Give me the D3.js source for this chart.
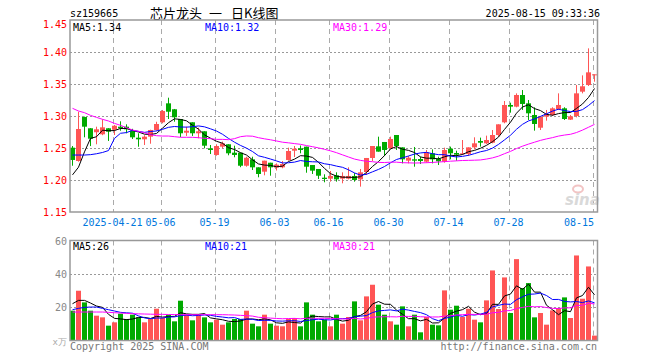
<!DOCTYPE html>
<html><head><meta charset="utf-8">
<script src="https://cdn.jsdelivr.net/npm/d3@7"></script>
<style>body{margin:0;background:#fff}svg{display:block}</style>
</head><body>
<svg id="c" width="660" height="360"></svg>
<script>
const dates = ["2025-04-10","2025-04-11","2025-04-14","2025-04-15","2025-04-16","2025-04-17","2025-04-18","2025-04-21","2025-04-22","2025-04-23","2025-04-24","2025-04-25","2025-04-28","2025-04-29","2025-04-30",
"2025-05-06","2025-05-07","2025-05-08","2025-05-09","2025-05-12","2025-05-13","2025-05-14","2025-05-15","2025-05-16","2025-05-19","2025-05-20","2025-05-21","2025-05-22","2025-05-23","2025-05-26","2025-05-27","2025-05-28","2025-05-29","2025-05-30",
"2025-06-03","2025-06-04","2025-06-05","2025-06-06","2025-06-09","2025-06-10","2025-06-11","2025-06-12","2025-06-13","2025-06-16","2025-06-17","2025-06-18","2025-06-19","2025-06-20","2025-06-23","2025-06-24","2025-06-25","2025-06-26","2025-06-27","2025-06-30",
"2025-07-01","2025-07-02","2025-07-03","2025-07-04","2025-07-07","2025-07-08","2025-07-09","2025-07-10","2025-07-11","2025-07-14","2025-07-15","2025-07-16","2025-07-17","2025-07-18","2025-07-21","2025-07-22","2025-07-23","2025-07-24","2025-07-25","2025-07-28","2025-07-29","2025-07-30","2025-07-31",
"2025-08-01","2025-08-04","2025-08-05","2025-08-06","2025-08-07","2025-08-08","2025-08-11","2025-08-12","2025-08-13","2025-08-14","2025-08-15"];

const open  = [1.2505,1.2297,1.2984,1.2808,1.2746,1.2714,1.2808,1.2786,1.2833,1.2833,1.2770,1.2661,1.2636,1.2677,1.2781,1.2902,1.3198,1.3105,1.2953,1.2739,1.2902,1.2730,1.2761,1.2495,1.2391,1.2521,1.2558,1.2427,1.2427,1.2223,1.2323,1.2198,1.2130,1.2270,1.2195,1.2198,1.2313,1.2458,1.2495,1.2521,1.2234,1.2172,1.2036,1.2021,1.2073,1.2021,1.2021,1.2063,1.2010,1.2125,1.2344,1.2526,1.2594,1.2495,1.2703,1.2510,1.2302,1.2323,1.2328,1.2286,1.2417,1.2333,1.2286,1.2490,1.2422,1.2406,1.2406,1.2510,1.2609,1.2573,1.2583,1.2703,1.2901,1.3172,1.3146,1.3328,1.3198,1.3016,1.2817,1.2990,1.3016,1.3109,1.3120,1.2943,1.3000,1.3380,1.3484,1.3641];
const high  = [1.2531,1.3067,1.2990,1.2810,1.2833,1.2948,1.2810,1.2860,1.2917,1.2870,1.2800,1.2730,1.2700,1.2786,1.2910,1.3094,1.3286,1.3110,1.2953,1.2833,1.2902,1.2817,1.2761,1.2547,1.2558,1.2600,1.2558,1.2536,1.2427,1.2364,1.2364,1.2198,1.2302,1.2270,1.2260,1.2297,1.2505,1.2531,1.2539,1.2521,1.2234,1.2172,1.2089,1.2141,1.2120,1.2120,1.2198,1.2108,1.2172,1.2344,1.2531,1.2677,1.2594,1.2677,1.2703,1.2510,1.2375,1.2516,1.2364,1.2469,1.2479,1.2364,1.2505,1.2521,1.2458,1.2625,1.2510,1.2667,1.2662,1.2693,1.2781,1.2870,1.3234,1.3208,1.3354,1.3406,1.3250,1.3136,1.3000,1.3094,1.3136,1.3354,1.3136,1.3016,1.3484,1.3635,1.4057,1.3651];
const low   = [1.2223,1.2286,1.2667,1.2530,1.2558,1.2700,1.2610,1.2703,1.2770,1.2730,1.2640,1.2520,1.2547,1.2567,1.2770,1.2886,1.2953,1.2911,1.2670,1.2688,1.2688,1.2652,1.2495,1.2406,1.2380,1.2495,1.2386,1.2355,1.2200,1.2208,1.2156,1.2042,1.2073,1.2067,1.2148,1.2183,1.2302,1.2359,1.2417,1.2114,1.2094,1.2016,1.1964,1.1974,1.1974,1.1948,1.2010,1.1974,1.1896,1.2078,1.2297,1.2443,1.2375,1.2484,1.2469,1.2260,1.2260,1.2208,1.2250,1.2271,1.2260,1.2234,1.2271,1.2323,1.2302,1.2396,1.2375,1.2479,1.2521,1.2563,1.2573,1.2677,1.2886,1.3052,1.3136,1.3094,1.2938,1.2771,1.2781,1.2927,1.3000,1.3094,1.2938,1.2938,1.2979,1.3354,1.3469,1.3536];
const close = [1.2313,1.2797,1.2833,1.2645,1.2792,1.2823,1.2755,1.2848,1.2808,1.2792,1.2667,1.2636,1.2677,1.2781,1.2875,1.3078,1.3067,1.2980,1.2730,1.2770,1.2730,1.2761,1.2536,1.2469,1.2531,1.2573,1.2417,1.2391,1.2223,1.2348,1.2198,1.2094,1.2302,1.2198,1.2239,1.2250,1.2453,1.2489,1.2469,1.2208,1.2146,1.2067,1.2016,1.2063,1.2010,1.2063,1.2063,1.2000,1.2120,1.2344,1.2531,1.2443,1.2469,1.2641,1.2531,1.2323,1.2349,1.2302,1.2297,1.2432,1.2323,1.2292,1.2469,1.2417,1.2396,1.2417,1.2510,1.2573,1.2583,1.2625,1.2703,1.2870,1.3172,1.3146,1.3328,1.3188,1.3042,1.2875,1.2990,1.3031,1.3120,1.3172,1.2953,1.2995,1.3354,1.3464,1.3682,1.3651];
// volume (x万)
const volume = [17.8,29.8,22.8,17.8,14.8,13.8,8.8,10.8,16.0,12.8,15.4,13.8,10.8,12.8,19.0,13.4,15.4,11.4,23.8,15.4,12.0,15.4,13.8,10.8,12.4,9.4,10.8,12.8,12.8,17.8,10.0,8.4,15.4,10.0,8.8,8.4,12.8,13.4,8.4,22.8,15.4,11.4,12.4,8.4,15.4,10.0,14.0,23.4,12.0,26.4,33.4,21.4,15.4,11.4,9.4,20.4,8.4,15.4,4.8,14.0,9.4,9.0,30.0,18.4,20.8,14.0,19.0,12.4,10.8,24.0,42.0,18.8,37.8,16.4,48.8,31.4,34.4,13.8,16.4,9.4,18.0,19.4,25.8,13.4,51.0,25.0,44.4,2.8];

const ma5Head  = [1.208,1.220,1.244,1.265];
const ma10Head = [1.239,1.239,1.239,1.2396,1.241,1.243,1.246,1.265,1.273];
const ma30Head = [1.3120,1.3078,1.3052,1.3010,1.2979,1.2948,1.2922,1.2885,1.2854,1.2817,1.2781,1.2760,1.2739,1.2708,1.2692,1.2687,1.2687,1.2677,1.2667,1.2667,1.2667,1.2661,1.2651,1.2646,1.2635,1.2635,1.2630,1.2646,1.2677];
const vma5Head  = [22.0,24.0,24.0,22.4];
const vma10Head = [18.4,19.2,19.8,20.0,20.0,19.2,18.4,17.6,16.8];
const vma30Head = [17.0,17.0,17.0,17.0,17.0,17.0,16.8,16.6,16.4,16.2,16.0,15.9,15.8,15.7,15.6,15.6,15.5,15.5,15.4,15.4,15.4,15.4,15.4,15.4,15.4,15.4,15.3,15.2,15.0];

const priceTicks = [1.45,1.40,1.35,1.30,1.25,1.20,1.15];
const volTicks = [60,40,20];
const tickDates = ["2025-04-21","2025-05-06","2025-05-19","2025-06-03","2025-06-16","2025-06-30","2025-07-14","2025-07-28","2025-08-15"];
const tickLabels = ["2025-04-21","05-06","05-19","06-03","06-16","06-30","07-14","07-28","08-15"];
const priceLegend = ["MA5:1.34","MA10:1.32","MA30:1.29"];
const volLegend = ["MA5:26","MA10:21","MA30:21"];
const maColors = ["#000000","#0000ff","#ff00ff"];

const RED = "#ff5555", GREEN = "#00aa00";
const MONO = "'DejaVu Sans Mono', 'Liberation Mono', monospace";
const svg = d3.select("#c");

const L = 70, R = 597.5;
const PT = 20, PB = 212, VT = 240.5, VB = 340.5;

const idx = d3.range(dates.length);
const x = d3.scaleBand().domain(idx).range([69.5, 597.5]);
const cx = i => x(i) + x.bandwidth() / 2;
const y = d3.scaleLinear().domain([1.15, 1.45]).range([PB, PT]);
const yv = d3.scaleLinear().domain([0, 60]).range([VB - 0.2, VT]);

function movingAvg(arr, n, head) {
  return arr.map((v, i) => i < n - 1 ? head[i] : d3.mean(arr.slice(i - n + 1, i + 1)));
}
const ma = [movingAvg(close, 5, ma5Head), movingAvg(close, 10, ma10Head), movingAvg(close, 30, ma30Head)];
const vma = [movingAvg(volume, 5, vma5Head), movingAvg(volume, 10, vma10Head), movingAvg(volume, 30, vma30Head)];

// header
svg.append("text").attr("x", 70).attr("y", 17).attr("font-family", MONO).attr("font-size", 10).attr("fill", "#000").text("sz159665");
const CJK = "'Noto Sans CJK SC', sans-serif";
svg.append("text").attr("x", 150).attr("y", 18).attr("font-family", CJK).attr("font-size", 13).attr("fill", "#000").text("芯片龙头");
svg.append("text").attr("x", 209).attr("y", 18).attr("font-family", CJK).attr("font-size", 13).attr("fill", "#000").text("一");
svg.append("text").attr("x", 231).attr("y", 18).attr("font-family", CJK).attr("font-size", 13).attr("fill", "#000").text("日K线图");
svg.append("text").attr("x", 600).attr("y", 17).attr("text-anchor", "end").attr("font-family", MONO).attr("font-size", 10).attr("fill", "#000").text("2025-08-15 09:33:36");

// grid: vertical dashed
const tickIdx = tickDates.map(d => dates.indexOf(d));
[[PT, PB], [VT, VB]].forEach(([t, b]) => {
  svg.append("g").selectAll("line").data(tickIdx).join("line")
    .attr("x1", i => Math.round(cx(i) - 2) + 0.5).attr("x2", i => Math.round(cx(i) - 2) + 0.5)
    .attr("y1", t).attr("y2", b)
    .attr("stroke", "#aaaaaa").attr("stroke-width", 1).attr("stroke-dasharray", "5,4");
});
// horizontal dotted
svg.append("g").selectAll("line").data(priceTicks.filter(v => v < 1.449 && v > 1.151)).join("line")
  .attr("x1", L).attr("x2", R).attr("y1", v => Math.round(y(v)) + 0.5).attr("y2", v => Math.round(y(v)) + 0.5)
  .attr("stroke", "#999").attr("stroke-dasharray", "2,2");
svg.append("g").selectAll("line").data(volTicks.filter(v => v < 60)).join("line")
  .attr("x1", L).attr("x2", R).attr("y1", v => Math.round(yv(v)) + 0.5).attr("y2", v => Math.round(yv(v)) + 0.5)
  .attr("stroke", "#999").attr("stroke-dasharray", "2,2");

// price axis labels
svg.append("g").selectAll("text").data(priceTicks).join("text")
  .attr("x", 67).attr("y", v => Math.max(y(v) + 4, 28)).attr("text-anchor", "end")
  .attr("font-family", MONO).attr("font-size", 10).attr("fill", "#ff0000").text(v => v.toFixed(2));
// volume axis labels
svg.append("g").selectAll("text").data(volTicks).join("text")
  .attr("x", 67).attr("y", v => Math.max(yv(v) + 4, 244)).attr("text-anchor", "end")
  .attr("font-family", MONO).attr("font-size", 10).attr("fill", "#888").text(v => v);
svg.append("text").attr("x", 67).attr("y", 345).attr("text-anchor", "end").attr("font-family", MONO).attr("font-size", 9).attr("fill", "#aaa").text("x万");

// date labels
svg.append("g").selectAll("text").data(tickIdx).join("text")
  .attr("x", (i, k) => k === tickIdx.length - 1 ? 594 : cx(i) - 2)
  .attr("y", 226)
  .attr("text-anchor", (i, k) => k === tickIdx.length - 1 ? "end" : "middle")
  .attr("font-family", MONO).attr("font-size", 10).attr("fill", "#0077dd")
  .text((i, k) => tickLabels[k]);

// sina watermark
svg.append("ellipse").attr("cx", 578).attr("cy", 189).attr("rx", 5).attr("ry", 3.5).attr("fill", "none").attr("stroke", "#f2c4c4").attr("stroke-width", 2);
svg.append("text").attr("x", 565).attr("y", 205).attr("font-family", "'DejaVu Sans', sans-serif").attr("font-size", 15).attr("font-weight", "bold").attr("font-style", "italic").attr("fill", "#d9d9d9").text("sina");

// candles
const col = i => close[i] >= open[i] ? RED : GREEN;
const cg = svg.append("g");
cg.selectAll("line").data(idx).join("line")
  .attr("x1", cx).attr("x2", cx).attr("y1", i => y(high[i])).attr("y2", i => y(low[i]))
  .attr("stroke", col).attr("stroke-width", 1);
cg.selectAll("rect").data(idx).join("rect")
  .attr("x", i => cx(i) - 2.5).attr("width", 5)
  .attr("y", i => y(Math.max(open[i], close[i])))
  .attr("height", i => Math.max(1, Math.abs(y(open[i]) - y(close[i]))))
  .attr("fill", col);

// volume bars
svg.append("g").selectAll("rect").data(idx).join("rect")
  .attr("x", i => cx(i) - 2.5).attr("width", 5)
  .attr("y", i => yv(volume[i])).attr("height", i => VB - yv(volume[i]))
  .attr("fill", col);

// MA lines
ma.forEach((arr, k) => {
  svg.append("path").datum(arr)
    .attr("d", d3.line().x((d, i) => cx(i)).y(d => y(d)))
    .attr("fill", "none").attr("stroke", maColors[k]).attr("stroke-width", 1);
});
vma.forEach((arr, k) => {
  svg.append("path").datum(arr)
    .attr("d", d3.line().x((d, i) => cx(i)).y(d => yv(d)))
    .attr("fill", "none").attr("stroke", maColors[k]).attr("stroke-width", 1);
});

// frames
svg.append("rect").attr("x", L).attr("y", PT).attr("width", R - L).attr("height", PB - PT).attr("fill", "none").attr("stroke", "#999").attr("stroke-width", 1.5);
svg.append("rect").attr("x", L).attr("y", VT).attr("width", R - L).attr("height", VB - VT).attr("fill", "none").attr("stroke", "#999").attr("stroke-width", 1.5);

// legends
const legX = [73, 205, 333];
priceLegend.forEach((t, k) => svg.append("text").attr("x", legX[k]).attr("y", 31).attr("font-family", MONO).attr("font-size", 10).attr("fill", maColors[k]).text(t));
volLegend.forEach((t, k) => svg.append("text").attr("x", legX[k]).attr("y", 250).attr("font-family", MONO).attr("font-size", 10).attr("fill", maColors[k]).text(t));

// footer
svg.append("text").attr("x", 70).attr("y", 350).attr("font-family", MONO).attr("font-size", 10).attr("fill", "#777").text("Copyright 2025 SINA.COM");
svg.append("text").attr("x", 597).attr("y", 350).attr("text-anchor", "end").attr("font-family", MONO).attr("font-size", 10).attr("fill", "#777").text("http://finance.sina.com.cn");
</script>
</body></html>
